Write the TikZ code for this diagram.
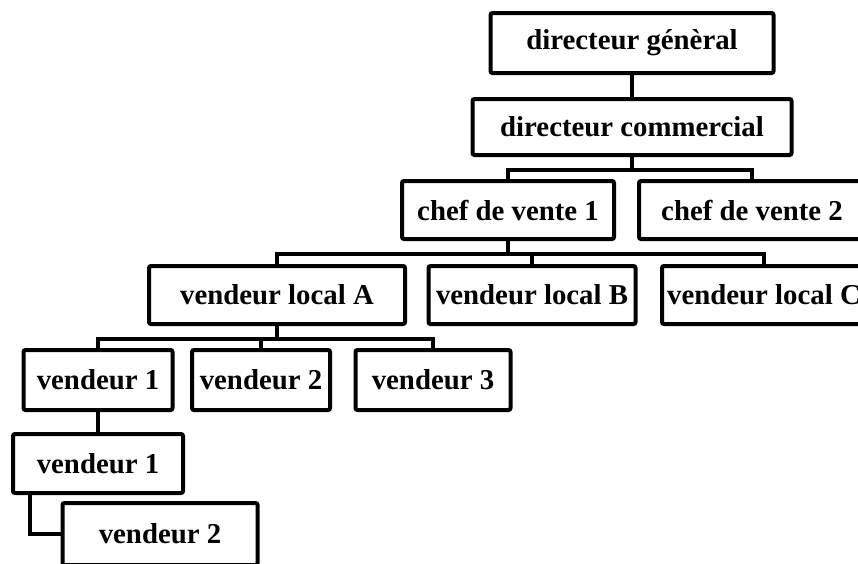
\documentclass[tikz,border=0pt]{standalone}
\usepackage{fontspec}
\setmainfont{Liberation Serif}
\begin{document}
\begin{tikzpicture}[x=1pt,y=-1pt,
  box/.style={draw, line width=4pt, rounded corners=2pt, inner sep=0pt, fill=white,
    font=\fontsize{28.8}{34}\selectfont\bfseries},
  link/.style={line width=4pt}]
\useasboundingbox (0,0) rectangle (858,563);
\node[box, minimum width=283pt, minimum height=60pt] (dg) at (632,43) {directeur génèral};
\node[box, minimum width=319pt, minimum height=56pt] (dc) at (632,127) {directeur commercial};
\node[box, minimum width=212pt, minimum height=58pt] (c1) at (508,210) {chef de vente 1};
\node[box, minimum width=226pt, minimum height=58pt] (c2) at (752,210) {chef de vente 2};
\node[box, minimum width=256pt, minimum height=58pt] (va) at (277,295) {vendeur local A};
\node[box, minimum width=207pt, minimum height=58pt] (vb) at (532,295) {vendeur local B};
\node[box, minimum width=204pt, minimum height=58pt] (vc) at (764,295) {vendeur local C};
\node[box, minimum width=149pt, minimum height=60pt] (v1) at (98,380) {vendeur 1};
\node[box, minimum width=138pt, minimum height=60pt] (v2) at (261,380) {vendeur 2};
\node[box, minimum width=155pt, minimum height=60pt] (v3) at (433,380) {vendeur 3};
\node[box, minimum width=170pt, minimum height=59pt] (v1b) at (98,463.5) {vendeur 1};
\node[box, minimum width=195pt, minimum height=62pt] (v2b) at (160,534) {vendeur 2};
\draw[link] (dg.south) -- (dc.north);
\draw[link] (dc.south) -- ++(0,13) -| (c1.north);
\draw[link] (dc.south) -- ++(0,13) -| (c2.north);
\draw[link] (c1.south) -- ++(0,13) -| (va.north);
\draw[link] (c1.south) -- ++(0,13) -| (vb.north);
\draw[link] (c1.south) -- ++(0,13) -| (vc.north);
\draw[link] (va.south) -- ++(0,13) -| (v1.north);
\draw[link] (va.south) -- ++(0,13) -| (v2.north);
\draw[link] (va.south) -- ++(0,13) -| (v3.north);
\draw[link] (v1.south) -- (v1b.north);
\draw[link] ([xshift=19pt]v1b.south west) |- (v2b.west);
\end{tikzpicture}
\end{document}
